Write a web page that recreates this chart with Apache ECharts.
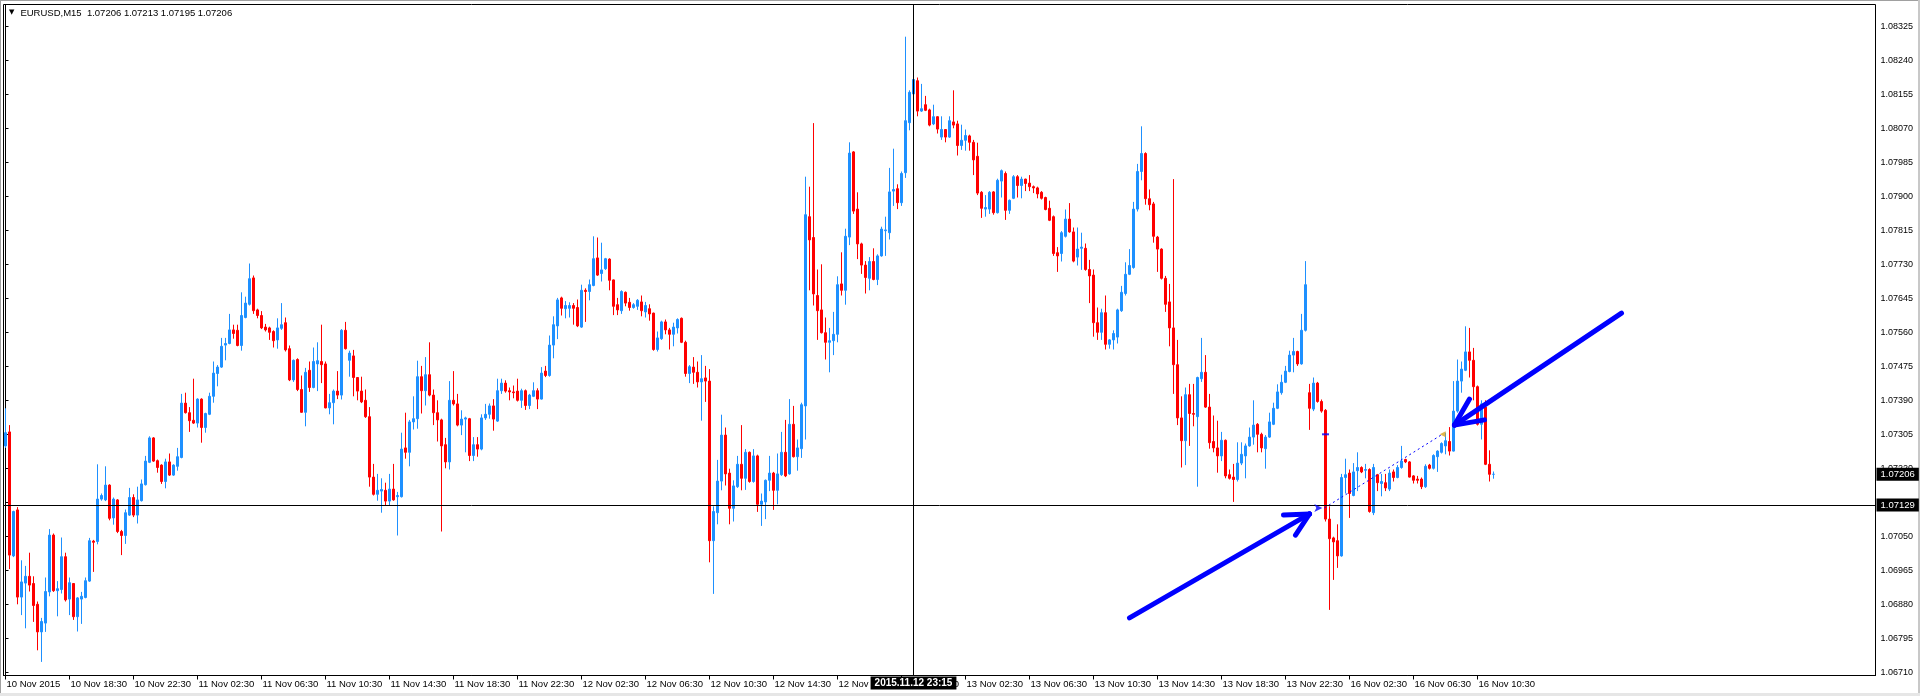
<!DOCTYPE html>
<html><head><meta charset="utf-8">
<script src="https://cdn.jsdelivr.net/npm/echarts@6/dist/echarts.min.js"></script>
<style>html,body{margin:0;padding:0;background:#fff;overflow:hidden}#c{width:1920px;height:696px}</style>
</head><body><div id="c"></div>
<script>
// ---------- DATA (EURUSD M15) ----------
const symbolName = 'EURUSD,M15';
const open = [
1.07277,1.07312,1.07002,1.07117,1.06899,1.06934,1.06951,1.06933,1.06881,1.06812,
1.06834,1.06912,1.07054,1.06915,1.06918,1.07000,1.06894,1.06933,1.06850,1.06894,
1.06898,1.06939,1.07039,1.07038,1.07144,1.07142,1.07179,1.07097,1.07142,1.07063,
1.07053,1.07104,1.07148,1.07104,1.07140,1.07180,1.07236,1.07297,1.07240,1.07229,
1.07188,1.07237,1.07204,1.07226,1.07248,1.07384,1.07360,1.07341,1.07334,1.07394,
1.07323,1.07356,1.07401,1.07458,1.07474,1.07529,1.07533,1.07567,1.07566,1.07528,
1.07598,1.07631,1.07697,1.07617,1.07603,1.07574,1.07572,1.07563,1.07542,1.07571,
1.07585,1.07520,1.07442,1.07493,1.07418,1.07361,1.07466,1.07423,1.07482,1.07488,
1.07482,1.07372,1.07385,1.07414,1.07404,1.07566,1.07491,1.07502,1.07448,1.07414,
1.07391,1.07350,1.07199,1.07156,1.07164,1.07166,1.07139,1.07169,1.07150,1.07150,
1.07272,1.07261,1.07337,1.07345,1.07450,1.07415,1.07455,1.07404,1.07360,1.07342,
1.07280,1.07237,1.07391,1.07382,1.07329,1.07344,1.07345,1.07253,1.07280,1.07269,
1.07347,1.07356,1.07377,1.07339,1.07415,1.07434,1.07415,1.07412,1.07414,1.07391,
1.07415,1.07378,1.07401,1.07415,1.07394,1.07464,1.07453,1.07529,1.07577,1.07647,
1.07620,1.07621,1.07628,1.07623,1.07574,1.07666,1.07663,1.07678,1.07747,1.07708,
1.07720,1.07744,1.07692,1.07630,1.07615,1.07661,1.07636,1.07623,1.07626,1.07637,
1.07612,1.07620,1.07609,1.07518,1.07545,1.07587,1.07567,1.07556,1.07572,1.07596,
1.07536,1.07458,1.07474,1.07461,1.07437,1.07447,1.07439,1.07040,1.07110,1.07189,
1.07304,1.07209,1.07121,1.07175,1.07231,1.07196,1.07261,1.07188,1.07252,1.07131,
1.07137,1.07191,1.07209,1.07166,1.07205,1.07261,1.07207,1.07331,1.07250,1.07270,
1.07377,1.07850,1.07798,1.07653,1.07617,1.07560,1.07536,1.07540,1.07556,1.07682,
1.07666,1.07799,1.08012,1.07869,1.07782,1.07729,1.07696,1.07738,1.07693,1.07752,
1.07815,1.07810,1.07914,1.07920,1.07885,1.07960,1.08085,1.08157,1.08190,1.08114,
1.08130,1.08117,1.08082,1.08100,1.08049,1.08068,1.08049,1.08087,1.08082,1.08028,
1.08041,1.08052,1.08036,1.08001,1.07911,1.07869,1.07869,1.07912,1.07860,1.07939,
1.07958,1.07866,1.07896,1.07950,1.07928,1.07944,1.07934,1.07925,1.07922,1.07911,
1.07898,1.07871,1.07850,1.07760,1.07758,1.07801,1.07844,1.07812,1.07749,1.07771,
1.07771,1.07718,1.07704,1.07585,1.07561,1.07610,1.07531,1.07542,1.07549,1.07615,
1.07658,1.07706,1.07723,1.07869,1.07963,1.08008,1.07895,1.07882,1.07799,1.07769,
1.07696,1.07637,1.07572,1.07480,1.07347,1.07290,1.07405,1.07358,1.07350,1.07445,
1.07461,1.07374,1.07288,1.07272,1.07252,1.07291,1.07205,1.07199,1.07193,1.07234,
1.07252,1.07277,1.07299,1.07331,1.07306,1.07270,1.07299,1.07331,1.07371,1.07410,
1.07436,1.07463,1.07504,1.07513,1.07482,1.07566,1.07410,1.07369,1.07434,1.07388,
1.07366,1.07094,1.07047,1.07040,1.07002,1.07198,1.07209,1.07153,1.07215,1.07223,
1.07216,1.07218,1.07110,1.07205,1.07183,1.07185,1.07169,1.07212,1.07198,1.07223,
1.07243,1.07237,1.07202,1.07194,1.07194,1.07175,1.07229,1.07221,1.07250,1.07261,
1.07277,1.07288,1.07264,1.07364,1.07439,1.07466,1.07512,1.07491,1.07425,1.07331,
1.07374,1.07231,1.07206];
const high = [
1.07371,1.07329,1.07115,1.07124,1.06991,1.06977,1.07010,1.06951,1.06888,1.06847,
1.06948,1.07069,1.07058,1.06939,1.07048,1.07010,1.06948,1.06934,1.06899,1.06912,
1.06948,1.07047,1.07042,1.07231,1.07158,1.07226,1.07181,1.07148,1.07144,1.07067,
1.07118,1.07172,1.07156,1.07175,1.07193,1.07252,1.07301,1.07299,1.07243,1.07231,
1.07245,1.07258,1.07231,1.07272,1.07407,1.07410,1.07374,1.07445,1.07396,1.07396,
1.07360,1.07410,1.07488,1.07479,1.07547,1.07547,1.07607,1.07580,1.07580,1.07661,
1.07650,1.07733,1.07703,1.07620,1.07614,1.07582,1.07575,1.07566,1.07596,1.07634,
1.07598,1.07528,1.07493,1.07496,1.07453,1.07472,1.07488,1.07523,1.07536,1.07580,
1.07488,1.07407,1.07418,1.07464,1.07569,1.07587,1.07515,1.07517,1.07449,1.07450,
1.07418,1.07374,1.07232,1.07207,1.07196,1.07185,1.07207,1.07232,1.07162,1.07310,
1.07360,1.07342,1.07401,1.07490,1.07477,1.07499,1.07536,1.07418,1.07391,1.07345,
1.07297,1.07439,1.07464,1.07407,1.07366,1.07350,1.07347,1.07299,1.07299,1.07356,
1.07382,1.07383,1.07394,1.07445,1.07445,1.07441,1.07423,1.07428,1.07445,1.07420,
1.07418,1.07407,1.07436,1.07421,1.07474,1.07477,1.07553,1.07601,1.07647,1.07650,
1.07639,1.07636,1.07634,1.07643,1.07680,1.07671,1.07693,1.07801,1.07798,1.07785,
1.07747,1.07746,1.07693,1.07647,1.07666,1.07663,1.07647,1.07634,1.07644,1.07653,
1.07637,1.07631,1.07610,1.07563,1.07590,1.07593,1.07572,1.07585,1.07596,1.07598,
1.07540,1.07479,1.07499,1.07488,1.07504,1.07477,1.07469,1.07126,1.07242,1.07355,
1.07323,1.07220,1.07191,1.07252,1.07329,1.07269,1.07263,1.07269,1.07255,1.07158,
1.07193,1.07252,1.07212,1.07258,1.07312,1.07342,1.07394,1.07377,1.07293,1.07385,
1.07950,1.07925,1.08084,1.07718,1.07731,1.07598,1.07572,1.07612,1.07701,1.07761,
1.07820,1.08036,1.08014,1.07911,1.07785,1.07739,1.07749,1.07771,1.07756,1.07825,
1.07850,1.07972,1.08020,1.07931,1.07963,1.08300,1.08166,1.08196,1.08198,1.08182,
1.08152,1.08120,1.08130,1.08101,1.08101,1.08069,1.08101,1.08166,1.08090,1.08080,
1.08068,1.08055,1.08042,1.08035,1.07914,1.07904,1.07914,1.07914,1.07945,1.07968,
1.07963,1.07893,1.07954,1.07954,1.07950,1.07945,1.07954,1.07928,1.07925,1.07914,
1.07900,1.07890,1.07853,1.07774,1.07814,1.07868,1.07884,1.07823,1.07823,1.07810,
1.07783,1.07742,1.07718,1.07623,1.07620,1.07653,1.07544,1.07566,1.07620,1.07677,
1.07736,1.07769,1.07887,1.07982,1.08076,1.08011,1.07918,1.07887,1.07802,1.07771,
1.07702,1.07682,1.07944,1.07542,1.07401,1.07423,1.07432,1.07432,1.07450,1.07547,
1.07504,1.07407,1.07353,1.07340,1.07312,1.07293,1.07218,1.07232,1.07286,1.07286,
1.07283,1.07323,1.07391,1.07334,1.07310,1.07304,1.07360,1.07385,1.07431,1.07455,
1.07477,1.07515,1.07547,1.07515,1.07607,1.07739,1.07432,1.07448,1.07437,1.07393,
1.07369,1.07126,1.07050,1.07081,1.07207,1.07245,1.07218,1.07234,1.07261,1.07226,
1.07232,1.07221,1.07232,1.07207,1.07207,1.07207,1.07218,1.07218,1.07229,1.07277,
1.07245,1.07239,1.07204,1.07202,1.07198,1.07231,1.07232,1.07256,1.07266,1.07286,
1.07310,1.07324,1.07439,1.07493,1.07488,1.07576,1.07572,1.07522,1.07428,1.07391,
1.07391,1.07266,1.07213];
const low = [
1.07272,1.06969,1.06999,1.06881,1.06854,1.06821,1.06913,1.06837,1.06766,1.06737,
1.06812,1.06901,1.06912,1.06851,1.06908,1.06888,1.06854,1.06842,1.06813,1.06832,
1.06896,1.06937,1.06962,1.07031,1.07140,1.07139,1.07091,1.07080,1.07059,1.07004,
1.07032,1.07102,1.07099,1.07083,1.07138,1.07178,1.07234,1.07237,1.07210,1.07182,
1.07171,1.07202,1.07202,1.07215,1.07246,1.07358,1.07312,1.07332,1.07323,1.07285,
1.07310,1.07354,1.07385,1.07426,1.07472,1.07491,1.07531,1.07545,1.07526,1.07515,
1.07596,1.07628,1.07607,1.07596,1.07569,1.07563,1.07542,1.07523,1.07520,1.07567,
1.07513,1.07439,1.07437,1.07414,1.07360,1.07326,1.07412,1.07421,1.07414,1.07434,
1.07371,1.07356,1.07331,1.07394,1.07393,1.07518,1.07450,1.07401,1.07391,1.07384,
1.07347,1.07175,1.07153,1.07140,1.07110,1.07129,1.07129,1.07140,1.07053,1.07148,
1.07245,1.07226,1.07318,1.07320,1.07358,1.07378,1.07401,1.07329,1.07288,1.07063,
1.07221,1.07218,1.07378,1.07326,1.07304,1.07261,1.07239,1.07239,1.07250,1.07266,
1.07342,1.07345,1.07315,1.07337,1.07407,1.07410,1.07391,1.07396,1.07388,1.07372,
1.07367,1.07369,1.07399,1.07369,1.07393,1.07449,1.07450,1.07496,1.07544,1.07603,
1.07596,1.07598,1.07580,1.07574,1.07572,1.07587,1.07641,1.07676,1.07702,1.07688,
1.07717,1.07666,1.07604,1.07604,1.07607,1.07626,1.07615,1.07620,1.07617,1.07601,
1.07598,1.07590,1.07515,1.07513,1.07542,1.07556,1.07518,1.07526,1.07558,1.07534,
1.07450,1.07434,1.07432,1.07423,1.07340,1.07387,1.06986,1.06907,1.07081,1.07166,
1.07178,1.07081,1.07088,1.07172,1.07166,1.07167,1.07185,1.07185,1.07112,1.07077,
1.07094,1.07164,1.07117,1.07131,1.07202,1.07199,1.07205,1.07248,1.07215,1.07247,
1.07293,1.07666,1.07628,1.07542,1.07558,1.07493,1.07461,1.07504,1.07536,1.07653,
1.07630,1.07779,1.07857,1.07744,1.07707,1.07658,1.07666,1.07691,1.07679,1.07750,
1.07752,1.07793,1.07877,1.07869,1.07877,1.07947,1.08066,1.08155,1.08101,1.08112,
1.08114,1.08076,1.08079,1.08058,1.08042,1.08036,1.08047,1.08071,1.08003,1.08017,
1.08015,1.08015,1.07954,1.07904,1.07847,1.07850,1.07857,1.07855,1.07858,1.07898,
1.07842,1.07857,1.07894,1.07898,1.07896,1.07914,1.07914,1.07909,1.07896,1.07893,
1.07866,1.07839,1.07752,1.07712,1.07738,1.07798,1.07810,1.07736,1.07728,1.07717,
1.07715,1.07634,1.07550,1.07542,1.07542,1.07518,1.07520,1.07518,1.07533,1.07612,
1.07653,1.07704,1.07720,1.07863,1.07941,1.07880,1.07866,1.07785,1.07712,1.07693,
1.07612,1.07526,1.07407,1.07329,1.07223,1.07229,1.07277,1.07326,1.07175,1.07437,
1.07372,1.07270,1.07261,1.07210,1.07239,1.07196,1.07193,1.07137,1.07188,1.07229,
1.07196,1.07275,1.07280,1.07261,1.07261,1.07220,1.07297,1.07329,1.07369,1.07405,
1.07434,1.07461,1.07461,1.07477,1.07480,1.07563,1.07317,1.07364,1.07385,1.07360,
1.07088,1.06867,1.06942,1.06972,1.07000,1.07158,1.07097,1.07151,1.07164,1.07209,
1.07196,1.07110,1.07104,1.07164,1.07151,1.07164,1.07164,1.07188,1.07196,1.07220,
1.07234,1.07198,1.07183,1.07183,1.07169,1.07172,1.07218,1.07218,1.07212,1.07258,
1.07256,1.07253,1.07263,1.07360,1.07410,1.07464,1.07448,1.07391,1.07328,1.07293,
1.07229,1.07188,1.07195];
const close = [
1.07310,1.07004,1.07113,1.06899,1.06937,1.06951,1.06929,1.06878,1.06812,1.06838,
1.06913,1.07054,1.06915,1.06920,1.07000,1.06892,1.06935,1.06850,1.06897,1.06901,
1.06940,1.07040,1.07036,1.07144,1.07153,1.07179,1.07096,1.07144,1.07063,1.07053,
1.07110,1.07148,1.07104,1.07142,1.07182,1.07239,1.07297,1.07239,1.07223,1.07188,
1.07237,1.07204,1.07229,1.07250,1.07384,1.07360,1.07340,1.07334,1.07394,1.07323,
1.07358,1.07401,1.07459,1.07474,1.07526,1.07533,1.07567,1.07558,1.07528,1.07603,
1.07634,1.07695,1.07615,1.07603,1.07572,1.07567,1.07561,1.07540,1.07572,1.07580,
1.07517,1.07442,1.07491,1.07418,1.07361,1.07461,1.07423,1.07488,1.07490,1.07480,
1.07372,1.07385,1.07414,1.07404,1.07566,1.07520,1.07509,1.07448,1.07414,1.07387,
1.07350,1.07199,1.07156,1.07166,1.07168,1.07139,1.07169,1.07142,1.07153,1.07269,
1.07261,1.07337,1.07345,1.07450,1.07415,1.07455,1.07404,1.07360,1.07342,1.07277,
1.07237,1.07391,1.07382,1.07329,1.07344,1.07347,1.07253,1.07280,1.07269,1.07347,
1.07356,1.07377,1.07344,1.07415,1.07434,1.07414,1.07412,1.07410,1.07391,1.07415,
1.07378,1.07404,1.07415,1.07394,1.07459,1.07453,1.07529,1.07580,1.07642,1.07621,
1.07628,1.07628,1.07621,1.07577,1.07666,1.07663,1.07680,1.07745,1.07704,1.07717,
1.07745,1.07691,1.07626,1.07617,1.07663,1.07634,1.07623,1.07630,1.07641,1.07615,
1.07628,1.07607,1.07518,1.07547,1.07587,1.07567,1.07556,1.07574,1.07593,1.07536,
1.07458,1.07475,1.07461,1.07437,1.07445,1.07439,1.07040,1.07113,1.07189,1.07304,
1.07207,1.07121,1.07177,1.07231,1.07196,1.07261,1.07188,1.07252,1.07131,1.07139,
1.07191,1.07209,1.07166,1.07207,1.07261,1.07202,1.07331,1.07250,1.07272,1.07380,
1.07855,1.07792,1.07657,1.07615,1.07560,1.07536,1.07540,1.07556,1.07680,1.07666,
1.07801,1.08009,1.07864,1.07782,1.07729,1.07698,1.07738,1.07693,1.07752,1.07819,
1.07817,1.07912,1.07918,1.07885,1.07958,1.08090,1.08161,1.08193,1.08114,1.08120,
1.08116,1.08079,1.08100,1.08069,1.08068,1.08049,1.08090,1.08079,1.08028,1.08041,
1.08053,1.08036,1.07992,1.07909,1.07871,1.07873,1.07911,1.07860,1.07941,1.07965,
1.07866,1.07891,1.07950,1.07928,1.07944,1.07933,1.07925,1.07922,1.07907,1.07896,
1.07868,1.07841,1.07758,1.07752,1.07810,1.07844,1.07812,1.07739,1.07769,1.07774,
1.07718,1.07702,1.07585,1.07561,1.07610,1.07531,1.07542,1.07558,1.07617,1.07661,
1.07706,1.07728,1.07869,1.07963,1.08008,1.07895,1.07880,1.07801,1.07769,1.07696,
1.07631,1.07572,1.07480,1.07347,1.07290,1.07405,1.07358,1.07356,1.07448,1.07461,
1.07374,1.07285,1.07272,1.07252,1.07291,1.07202,1.07196,1.07193,1.07234,1.07256,
1.07277,1.07299,1.07329,1.07306,1.07272,1.07299,1.07337,1.07371,1.07412,1.07436,
1.07464,1.07504,1.07513,1.07482,1.07566,1.07680,1.07371,1.07434,1.07388,1.07364,
1.07094,1.07045,1.07037,1.07002,1.07198,1.07205,1.07158,1.07212,1.07223,1.07212,
1.07218,1.07113,1.07223,1.07185,1.07188,1.07172,1.07209,1.07198,1.07223,1.07239,
1.07237,1.07199,1.07191,1.07191,1.07175,1.07226,1.07221,1.07253,1.07264,1.07283,
1.07290,1.07264,1.07364,1.07439,1.07469,1.07512,1.07491,1.07425,1.07331,1.07382,
1.07231,1.07206,1.07206];

// time-axis tick labels (bar index -> text)
const xTickIndex = [0,16,32,48,64,80,96,112,128,144,160,176,192,208,224,240,256,272,288,304,320,336,352,368];
const xTickLabels = ['10 Nov 2015','10 Nov 18:30','10 Nov 22:30','11 Nov 02:30','11 Nov 06:30','11 Nov 10:30',
  '11 Nov 14:30','11 Nov 18:30','11 Nov 22:30','12 Nov 02:30','12 Nov 06:30','12 Nov 10:30','12 Nov 14:30',
  '12 Nov 18:30','12 Nov 22:30','13 Nov 02:30','13 Nov 06:30','13 Nov 10:30','13 Nov 14:30','13 Nov 18:30',
  '13 Nov 22:30','16 Nov 02:30','16 Nov 06:30','16 Nov 10:30'];
// price-axis tick labels
const yTickLabels = ['1.06710','1.06795','1.06880','1.06965','1.07050','1.07135','1.07220','1.07305','1.07390',
  '1.07475','1.07560','1.07645','1.07730','1.07815','1.07900','1.07985','1.08070','1.08155','1.08240','1.08325'];

// crosshair & bid
const crosshairBar = 227;
const crosshairTimeLabel = '2015.11.12 23:15';
const crosshairPrice = 1.07129;
const bidPrice = 1.07206;

// annotations, in [bar index, price]
const lowerArrowShaft = [[281, 1.06847], [326, 1.07107]];
const lowerArrowBarbs = [[319.5, 1.07104], [322.5, 1.07054]];
const upperArrowShaft = [[404, 1.07609], [362.25, 1.07329]];
const upperArrowBarbs = [[369.75, 1.07342], [366, 1.07394]];
const tradeLine = [[329.75, 1.07122], [359.2, 1.07306]];
const tradeOpenMark = [329.2, 1.07122];
const tradeCloseMark = [359.3, 1.07306];
const orderMark = [330, 1.07306];

// ---------- CHART ----------
const N_SLOTS = 468;             // visible bar slots incl. right-side shift
const Y_MIN = 1.06703, Y_MAX = 1.083805;
const FONT = "'Liberation Sans', Arial, sans-serif";
const UP = '#1E90FF', DOWN = '#FF0000', ARROW = '#0000FF';

const cats = Array.from({length: N_SLOTS}, (_, i) => String(i));
const labelMap = {};
xTickIndex.forEach((k, j) => { labelMap[k] = xTickLabels[j]; });
const candles = open.map((o, i) => [o, close[i], low[i], high[i]]);
const yTicks = yTickLabels.map(Number);
const last = open.length - 1;
const f5 = v => v.toFixed(5);

const arrowSegs = [
  {coords: [lowerArrowShaft[0], lowerArrowShaft[1]]},
  {coords: [lowerArrowBarbs[0], lowerArrowShaft[1]]},
  {coords: [lowerArrowBarbs[1], lowerArrowShaft[1]]},
  {coords: [upperArrowShaft[0], upperArrowShaft[1]]},
  {coords: [upperArrowBarbs[0], upperArrowShaft[1]]},
  {coords: [upperArrowBarbs[1], upperArrowShaft[1]]}
];

const chart = echarts.init(document.getElementById('c'), null, {renderer: 'canvas', width: 1920, height: 696});
chart.setOption({
  animation: false,
  backgroundColor: '#ffffff',
  textStyle: {fontFamily: FONT},
  title: {
    left: 8, top: 7, padding: 0,
    text: '{tri|▼}' + symbolName + '  ' + [open[last], high[last], low[last], close[last]].map(f5).join(' '),
    textStyle: {
      fontSize: 9.5, fontWeight: 'normal', color: '#000', fontFamily: FONT, lineHeight: 12,
      rich: {tri: {fontSize: 7, fontFamily: 'DejaVu Sans', color: '#000', padding: [0, 6, 1, 1], lineHeight: 12}}
    }
  },
  graphic: [
    {type: 'rect', shape: {x: 0, y: 0, width: 1920, height: 1}, style: {fill: '#a0a0a0'}, silent: true},
    {type: 'rect', shape: {x: 0, y: 0, width: 1, height: 696}, style: {fill: '#a0a0a0'}, silent: true},
    {type: 'rect', shape: {x: 1918, y: 0, width: 2, height: 696}, style: {fill: '#c8c8c8'}, silent: true},
    {type: 'rect', shape: {x: 0, y: 693, width: 1920, height: 3}, style: {fill: '#e6e6e6'}, silent: true}
  ],
  grid: {left: 3.5, right: 44.5, top: 4.5, bottom: 20.5, show: true, borderColor: '#000', borderWidth: 1,
         backgroundColor: '#fff', containLabel: false, outerBoundsMode: 'none'},
  xAxis: [{
    type: 'category', data: cats, boundaryGap: true, position: 'bottom',
    axisLine: {show: true, lineStyle: {color: '#000', width: 1}},
    axisTick: {show: true, alignWithLabel: true, length: 4, lineStyle: {color: '#000'},
               interval: (i) => labelMap[i] !== undefined},
    axisLabel: {show: true, interval: (i) => labelMap[i] !== undefined,
                formatter: (v, i) => labelMap[i] || '', align: 'left', margin: 4,
                fontSize: 9.5, color: '#000', fontFamily: FONT, padding: [0, 0, 0, 1]},
    splitLine: {show: false}
  }, {
    type: 'value', min: -0.5, max: N_SLOTS - 0.5, show: false, gridIndex: 0
  }],
  yAxis: [{
    type: 'value', position: 'right', min: Y_MIN, max: Y_MAX, scale: true,
    axisLine: {show: true, lineStyle: {color: '#000', width: 1}},
    axisTick: {show: true, length: 3, lineStyle: {color: '#000'}, customValues: yTicks},
    axisLabel: {show: true, customValues: yTicks, formatter: (v) => f5(v), margin: 5,
                fontSize: 9, color: '#000', fontFamily: FONT},
    splitLine: {show: false}
  }],
  series: [{
    type: 'candlestick', xAxisIndex: 0, yAxisIndex: 0, clip: false,
    barWidth: 2, data: candles, silent: true,
    itemStyle: {color: UP, color0: DOWN, borderColor: UP, borderColor0: DOWN, borderWidth: 1},
    markLine: {
      silent: true, symbol: ['none', 'none'], animation: false, precision: 5,
      data: [
        {xAxis: String(crosshairBar), lineStyle: {color: '#000', width: 1, type: 'solid'},
         label: {show: true, position: 'start', distance: 1, formatter: crosshairTimeLabel,
                 backgroundColor: '#000', color: '#fff', fontSize: 10, fontWeight: 'bold',
                 fontFamily: FONT, padding: [2, 4, 1, 4]}},
        {yAxis: crosshairPrice, lineStyle: {color: '#000', width: 1, type: 'solid'},
         label: {show: true, position: 'end', distance: 1, formatter: f5(crosshairPrice),
                 backgroundColor: '#000', color: '#fff', fontSize: 9.5, fontFamily: FONT, padding: [2, 4, 1, 4]}},
        {yAxis: bidPrice, lineStyle: {color: 'rgba(0,0,0,0)', width: 0},
         label: {show: true, position: 'end', distance: 1, formatter: f5(bidPrice),
                 backgroundColor: '#000', color: '#fff', fontSize: 9.5, fontFamily: FONT, padding: [2, 4, 1, 4]}}
      ]
    }
  }, {
    type: 'lines', coordinateSystem: 'cartesian2d', xAxisIndex: 1, yAxisIndex: 0, z: 5, silent: true,
    polyline: false, symbol: ['none', 'none'],
    lineStyle: {color: ARROW, width: 5, opacity: 1, cap: 'round', curveness: 0},
    data: arrowSegs
  }, {
    type: 'lines', coordinateSystem: 'cartesian2d', xAxisIndex: 1, yAxisIndex: 0, z: 4, silent: true,
    polyline: false, symbol: ['none', 'none'],
    lineStyle: {color: ARROW, width: 1, opacity: 1, type: [2, 3], curveness: 0},
    data: [{coords: tradeLine}]
  }, {
    type: 'scatter', xAxisIndex: 1, yAxisIndex: 0, z: 6, silent: true,
    data: [
      {value: tradeOpenMark, symbol: 'arrow', symbolSize: [6, 8], symbolRotate: -90, itemStyle: {color: ARROW}},
      {value: tradeCloseMark, symbol: 'triangle', symbolSize: [6, 6], symbolRotate: 90, itemStyle: {color: '#DAA520'}},
      {value: orderMark, symbol: 'rect', symbolSize: [7, 2], itemStyle: {color: ARROW}}
    ]
  }]
});
</script>
</body></html>
